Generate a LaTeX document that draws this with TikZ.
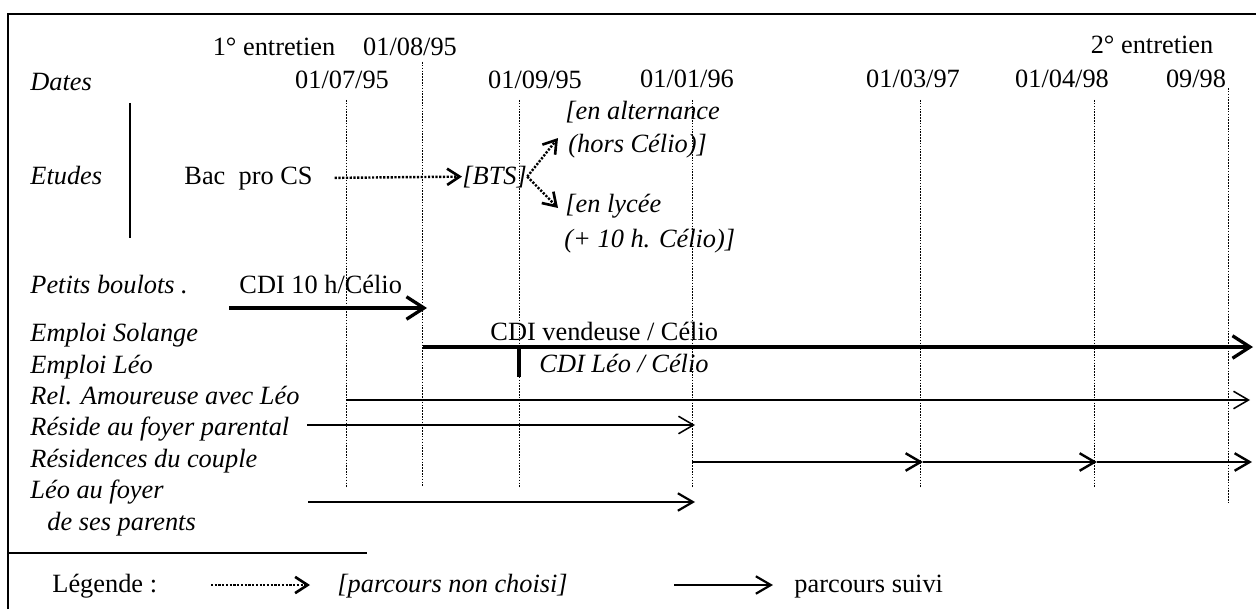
\documentclass[tikz,border=0pt]{standalone}
\usepackage{fontspec}
\setmainfont{Liberation Serif}
\usetikzlibrary{arrows.meta, positioning}

\begin{document}
\begin{tikzpicture}[
    x=0.016cm, y=-0.016cm,
    every node/.style={inner sep=0pt, font=\fontsize{12}{14}\selectfont},
    lbl/.style={anchor=base west, font=\fontsize{12}{14}\selectfont\itshape},
    txt/.style={anchor=base west},
    datelbl/.style={anchor=base},
    guide/.style={draw, line width=0.45pt, dash pattern=on 0.7pt off 0.6pt},
    track/.style={-{Straight Barb[length=2.4mm, width=2.8mm]}, line width=0.8pt},
    bigtrack/.style={-{Straight Barb[length=2.8mm, width=3.6mm]}, line width=1.5pt},
    notchosen/.style={-{Straight Barb[length=2mm, width=2.6mm, line width=1.2pt]}, line width=1.1pt, dash pattern=on 1pt off 0.7pt}
]

\useasboundingbox (0,0) rectangle (1256,609);
\draw[line width=0.8pt] (8,609) -- (8,14) -- (1256,14);

\node[datelbl] (e1) at (274,56) {1° entretien};
\node[datelbl] (d2) at (410,56) {01/08/95};
\node[datelbl] (e2) at (1152,54) {2° entretien};
\node[datelbl] (d1) at (342,89) {01/07/95};
\node[datelbl] (d3) at (535,89) {01/09/95};
\node[datelbl] (d4) at (687,88) {01/01/96};
\node[datelbl] (d5) at (913,88) {01/03/97};
\node[datelbl] (d6) at (1062,88) {01/04/98};
\node[datelbl] (d7) at (1196,88) {09/98};

\node[lbl] (dates) at (30,90) {Dates};
\node[lbl] (etudes) at (30,184) {Etudes};
\node[lbl] (boulots) at (30,293) {Petits boulots .};
\node[lbl] (solange) at (30,341) {Emploi Solange};
\node[lbl] (leo) at (30,373) {Emploi Léo};
\node[lbl] (amour) at (30,404) {Rel. Amoureuse avec Léo};
\node[lbl] (reside) at (30,435) {Réside au foyer parental};
\node[lbl] (couple) at (30,467) {Résidences du couple};
\node[lbl] (leofoyer) at (30,498) {Léo au foyer};
\node[lbl] (leoparents) at (47,530) {de ses parents};

\coordinate (g1t) at (346,100); \coordinate (g1b) at (346,487);
\coordinate (g2t) at (422,62);  \coordinate (g2b) at (422,487);
\coordinate (g3t) at (519,100); \coordinate (g3b) at (519,487);
\coordinate (g4t) at (692,100); \coordinate (g4b) at (692,487);
\coordinate (g5t) at (920,100); \coordinate (g5b) at (920,487);
\coordinate (g6t) at (1094,100); \coordinate (g6b) at (1094,487);
\coordinate (g7t) at (1228,88); \coordinate (g7b) at (1228,502);
\draw[guide] (g1t) -- (g1b);
\draw[guide] (g2t) -- (g2b);
\draw[guide] (g3t) -- (g3b);
\draw[guide] (g4t) -- (g4b);
\draw[guide] (g5t) -- (g5b);
\draw[guide] (g6t) -- (g6b);
\draw[guide] (g7t) -- (g7b);

\draw[line width=0.8pt] (130,103) -- (130,238);

\node[txt] (bac) at (184,184) {Bac~ pro CS};
\node[lbl] (bts) at (462,184) {[BTS]};
\node[lbl] (alt) at (565,120) {[en alternance};
\node[lbl] (alt2) at (568,152) {(hors Célio)]};
\node[lbl] (lyc) at (565,212) {[en lycée};
\node[lbl] (lyc2) at (564,247) {(+ 10 h. Célio)]};
\coordinate (altin) at (558,138);
\coordinate (lycin) at (558,208);
\draw[notchosen, shorten <=9\pgflinewidth] (bac.east) -- (bts.west);
\draw[notchosen] (bts.east) -- (altin);
\draw[notchosen] (bts.east) -- (lycin);

\node[txt] (cdi10) at (239,293) {CDI 10 h/Célio};
\coordinate (cdi10s) at (229,308); \coordinate (cdi10e) at (427,308);
\draw[bigtrack] (cdi10s) -- (cdi10e);

\node[txt] (vendeuse) at (490,340) {CDI vendeuse / Célio};
\coordinate (sol0) at (423,347); \coordinate (sol1) at (1253,347);
\draw[bigtrack] (sol0) -- (sol1);
\coordinate (leo0) at (519,345); \coordinate (leo1) at (519,377);
\draw[line width=2pt] (leo0) -- (leo1);
\node[lbl] (cdileo) at (539,372) {CDI Léo / Célio};

\coordinate (rel0) at (346,400); \coordinate (rel1) at (1250,400);
\draw[track, line width=0.7pt] (rel0) -- (rel1);
\coordinate (res0) at (307,425); \coordinate (res1) at (695,425);
\draw[track, line width=0.7pt] (res0) -- (res1);
\coordinate (cp0) at (692,462); \coordinate (cp1) at (923,462);
\coordinate (cp2) at (1097,462); \coordinate (cp3) at (1252,462);
\draw[track, line width=1.1pt] (cp0) -- (cp1);
\draw[track, line width=1.1pt] (cp1) -- (cp2);
\draw[track, line width=1.1pt] (cp2) -- (cp3);
\coordinate (lf0) at (308,502); \coordinate (lf1) at (695,502);
\draw[track, line width=1pt] (lf0) -- (lf1);

\draw[line width=0.8pt] (8,553) -- (367,553);
\node[txt] (legende) at (52,592) {Légende :};
\coordinate (lg0) at (211,585); \coordinate (lg1) at (310,585);
\draw[notchosen] (lg0) -- (lg1);
\node[lbl] (nonchoisi) at (337,592) {[parcours non choisi]};
\coordinate (lg2) at (674,585); \coordinate (lg3) at (773,585);
\draw[track, line width=1pt] (lg2) -- (lg3);
\node[txt] (suivi) at (794,592) {parcours suivi};

\end{tikzpicture}
\end{document}
